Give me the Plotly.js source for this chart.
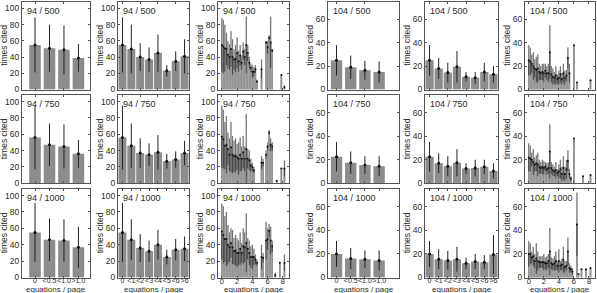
<!DOCTYPE html>
<html><head><meta charset="utf-8">
<script src="https://cdn.plot.ly/plotly-3.0.1.min.js"></script>
<style>html,body{margin:0;padding:0;background:#fff}#chart{width:597px;height:293px}</style>
</head><body><div id="chart"></div>
<script>
// ---------- DATA ----------
const groupLabels = ['94', '104'];
const sizeLabels = ['500', '750', '1000'];
const catsCoarse = ['0', '<0.5', '<1.0', '>1.0'];
const catsMid = ['0', '<1', '<2', '<3', '<4', '<5', '<6', '>6'];
const xFine = [0,0.2,0.4,0.6,0.8,1,1.2,1.4,1.6,1.8,2,2.2,2.4,2.6,2.8,3,3.2,3.4,3.6,3.8,4,4.2,4.4,4.6,4.8,5,5.2,5.4,5.6,5.8,6,6.2,6.4,6.6,6.8,7,7.2,7.4,7.6,7.8,8,8.2,8.4];
const xFineTicks = [0, 2, 4, 6, 8];
const yTicks94 = [0, 20, 40, 60, 80, 100];
const yTicks104 = [0, 20, 40, 60];

// coarse bins (mean, sd)
const c94_500_mean = [55, 51, 49, 39];   const c94_500_sd = [34, 29, 30, 17];
const c94_750_mean = [56, 47, 45, 36];   const c94_750_sd = [39, 26, 27, 17];
const c94_1000_mean = [55, 46, 45, 37];  const c94_1000_sd = [36, 26, 26, 25];
const c104_500_mean = [25, 19, 16.5, 15];   const c104_500_sd = [13, 10, 8, 9];
const c104_750_mean = [22.5, 17.5, 15.5, 14.5]; const c104_750_sd = [12.5, 9.5, 7.5, 8.5];
const c104_1000_mean = [20, 16, 15.5, 14.5];  const c104_1000_sd = [11, 9, 7.5, 8.5];

// per-integer bins (mean, sd)
const m94_500_mean = [55, 50, 40, 37, 45, 23, 35, 41];   const m94_500_sd = [34, 30, 17, 15, 23, 7, 12, 21];
const m94_750_mean = [56, 46, 37, 35, 38, 27, 29, 37];   const m94_750_sd = [39, 27, 18, 14, 21, 9, 10, 15];
const m94_1000_mean = [55, 46, 36, 32, 40, 25, 34, 35];  const m94_1000_sd = [36, 25, 17, 13, 18, 9, 13, 15];
const m104_500_mean = [25, 18, 14.5, 19.5, 11, 10, 15, 13]; const m104_500_sd = [13, 9, 8.5, 13.5, 4, 5, 8, 7];
const m104_750_mean = [22.5, 17, 14.5, 17.5, 12.5, 13, 14, 10.5]; const m104_750_sd = [12.5, 8.5, 8.5, 11.5, 4.5, 7, 6, 6.5];
const m104_1000_mean = [20, 15.5, 14.5, 15.5, 12, 13.5, 13, 19.5]; const m104_1000_sd = [11, 8.5, 8, 10.5, 5, 6.5, 6, 16.5];

// fine bins (mean, sd), null = empty bin
const f94_500_mean = [55,53,51,50,43,40,50,40,37,38,45,35,42,33,47,40,55,45,33,27,22,22,25,10,null,null,25,null,null,58,52,64,58,48,null,null,null,null,null,18,null,3,null];
const f94_500_sd   = [33,33,29,20,17,16,22,22,13,17,19,13,13,9,11,10,35,10,7,5,8,6,5,2,null,null,12,null,null,2,8,3,32,2,null,null,null,null,null,0,null,2,null];
const f94_750_mean = [57,54,46,47,42,35,44,35,33,34,32,30,35,30,38,30,42,30,28,22,20,16,null,null,null,null,25,25,null,35,45,62,47,45,null,null,3,null,null,18,null,18,null];
const f94_750_sd   = [38,36,29,35,20,20,31,23,19,21,16,20,21,15,20,15,43,12,12,8,5,4,null,null,null,null,8,5,null,5,5,3,8,5,null,null,1,null,null,0,null,10,null];
const f94_1000_mean = [56,52,47,47,40,37,42,37,32,33,30,30,35,30,38,37,42,35,30,25,25,25,22,18,null,null,25,24,null,45,47,57,45,38,null,3,null,null,18,null,null,18,null];
const f94_1000_sd   = [34,35,28,33,24,18,18,21,16,19,18,15,20,12,22,18,36,13,15,13,15,10,6,4,null,null,15,6,null,23,13,8,17,7,null,3,null,null,0,null,null,10,null];
const f104_500_mean = [25,24,22,20,18,17,18,15,14,15,14,16,14,14,32,13,11,10,12,9,10,13,9,14,10,12,27,14,null,null,38,null,6,null,null,null,null,null,null,null,null,8,null];
const f104_500_sd   = [13,12,8,12,8,11,12,7,6,7,8,6,6,8,23,7,7,5,8,4,6,7,5,8,6,5,9,8,null,null,0,null,0,null,null,null,null,null,null,null,null,0,null];
const f104_750_mean = [22,21,20,18,16,17,16,14,13,14,13,14,12,13,27,13,11,10,11,9,10,12,8,13,8,12,19,8,4,null,38,null,null,null,null,null,6,null,null,null,null,7,null];
const f104_750_sd   = [12,11,6,11,6,7,10,6,5,6,6,4,5,5,23,5,5,4,7,3,6,8,6,10,6,8,9,4,2,null,0,null,null,null,null,null,0,null,null,null,null,0,null];
const f104_1000_mean = [20,20,17,18,14,16,14,13,13,13,13,12,12,14,22,12,11,12,14,10,14,10,11,15,9,10,22,8,7,5,null,null,45,3,null,7,null,null,7,null,null,8,null];
const f104_1000_sd   = [11,9,5,8,6,13,8,5,5,5,7,5,6,6,20,5,5,6,8,4,10,4,5,11,5,4,12,4,3,3,null,null,27,0,null,0,null,null,0,null,null,0,null];

// ---------- LAYOUT / DRAW ----------
const W = 597, H = 293;
const colX = [[22, 90], [118, 189], [218, 289], [328, 399], [425, 498], [525, 595]];
const rowY = [[2, 89.5], [95, 183.3], [189, 277.5]];
const FONT = 'Liberation Sans, Arial, sans-serif';
const TXT = '#2a2a2a';
const BAR = '#8c8c8c', LIGHT = '#c2c2c2', DARK = '#5a5a5a';

const coarseData = {
  '94': [[c94_500_mean, c94_500_sd], [c94_750_mean, c94_750_sd], [c94_1000_mean, c94_1000_sd]],
  '104': [[c104_500_mean, c104_500_sd], [c104_750_mean, c104_750_sd], [c104_1000_mean, c104_1000_sd]]
};
const midData = {
  '94': [[m94_500_mean, m94_500_sd], [m94_750_mean, m94_750_sd], [m94_1000_mean, m94_1000_sd]],
  '104': [[m104_500_mean, m104_500_sd], [m104_750_mean, m104_750_sd], [m104_1000_mean, m104_1000_sd]]
};
const fineData = {
  '94': [[f94_500_mean, f94_500_sd], [f94_750_mean, f94_750_sd], [f94_1000_mean, f94_1000_sd]],
  '104': [[f104_500_mean, f104_500_sd], [f104_750_mean, f104_750_sd], [f104_1000_mean, f104_1000_sd]]
};

const traces = [];
const layout = {
  width: W, height: H, margin: {l: 0, r: 0, t: 0, b: 0},
  paper_bgcolor: '#fff', plot_bgcolor: '#fff',
  showlegend: false, barmode: 'overlay',
  font: {family: FONT, size: 9, color: TXT},
  annotations: []
};

function axBase() {
  return {showline: true, mirror: 'ticks', linecolor: '#555', linewidth: 1,
    ticks: 'inside', ticklen: 2, tickcolor: '#555', showgrid: false, zeroline: false,
    tickfont: {family: FONT, size: 8.5, color: TXT}, fixedrange: true};
}

for (let r = 0; r < 3; r++) {
  for (let c = 0; c < 6; c++) {
    const p = r * 6 + c + 1;
    const xa = p === 1 ? 'x' : 'x' + p;
    const ya = p === 1 ? 'y' : 'y' + p;
    const g = c < 3 ? 0 : 1;
    const grp = groupLabels[g];
    const kind = c % 3;
    const xKey = p === 1 ? 'xaxis' : 'xaxis' + p;
    const yKey = p === 1 ? 'yaxis' : 'yaxis' + p;

    const xax = axBase();
    xax.domain = [colX[c][0] / W, colX[c][1] / W];
    xax.anchor = ya;
    xax.showticklabels = (r === 2);
    xax.ticklabelstandoff = -4;
    xax.tickangle = 0;
    xax.tickfont = {family: FONT, size: kind === 2 ? 7.5 : 7, color: TXT};
    const yax = axBase();
    yax.domain = [1 - rowY[r][1] / H, 1 - rowY[r][0] / H];
    yax.anchor = xa;
    yax.range = g === 0 ? [0, 108] : [0, 75];
    yax.tickvals = g === 0 ? yTicks94 : yTicks104;

    if (kind === 0 || kind === 1) {
      const cats = kind === 0 ? catsCoarse : catsMid;
      const [mean, sd] = (kind === 0 ? coarseData : midData)[grp][r];
      xax.type = 'category';
      xax.categoryorder = 'array';
      xax.categoryarray = cats;
      xax.range = kind === 0 ? (g === 0 ? [-0.9, 3.8] : [-0.6, 4.4]) : [-0.5, 7.5];
      traces.push({type: 'bar', x: cats, y: mean, xaxis: xa, yaxis: ya,
        width: kind === 0 ? 0.8 : 0.9, marker: {color: BAR, line: {width: 0}}, hoverinfo: 'skip'});
      traces.push({type: 'scatter', mode: 'markers', x: cats, y: mean, xaxis: xa, yaxis: ya,
        marker: {color: '#111', size: 3},
        error_y: {type: 'data', array: sd, arrayminus: sd.map((s, i) => Math.min(s, mean[i])),
          color: '#222', thickness: 1, width: 0}, hoverinfo: 'skip'});
    } else {
      const [meanAll, sdAll] = fineData[grp][r];
      const xs = [], m = [], hi = [], lo = [], up = [], dn = [];
      xFine.forEach((x, i) => {
        if (meanAll[i] === null) return;
        xs.push(x); m.push(meanAll[i]);
        hi.push(meanAll[i] + sdAll[i]);
        const l = Math.max(0, meanAll[i] - sdAll[i]);
        lo.push(l); up.push(sdAll[i]); dn.push(meanAll[i] - l);
      });
      xax.type = 'linear';
      xax.range = [-0.5, 8.8];
      xax.tickvals = xFineTicks;
      const barLine = {width: 0.3, color: 'rgba(255,255,255,0.5)'};
      traces.push({type: 'bar', x: xs, y: hi, xaxis: xa, yaxis: ya, width: 0.2,
        marker: {color: LIGHT, line: barLine}, hoverinfo: 'skip'});
      traces.push({type: 'bar', x: xs, y: m, xaxis: xa, yaxis: ya, width: 0.2,
        marker: {color: DARK, line: barLine}, hoverinfo: 'skip'});
      traces.push({type: 'bar', x: xs, y: lo, xaxis: xa, yaxis: ya, width: 0.2,
        marker: {color: BAR, line: barLine}, hoverinfo: 'skip'});
      traces.push({type: 'scatter', mode: 'markers', x: xs, y: m, xaxis: xa, yaxis: ya,
        marker: {color: '#111', size: 2},
        error_y: {type: 'data', array: up, arrayminus: dn, color: '#333', thickness: 0.6, width: 0},
        hoverinfo: 'skip'});
    }
    layout[xKey] = xax;
    layout[yKey] = yax;

    const xd = xa + ' domain', yd = ya + ' domain';
    layout.annotations.push({xref: xd, yref: yd, x: 0, y: 1, xanchor: 'left', yanchor: 'top',
      xshift: 3, yshift: -2, showarrow: false, text: grp + ' / ' + sizeLabels[r],
      font: {family: FONT, size: 9, color: TXT}});
    layout.annotations.push({xref: xd, yref: yd, x: 0, y: 0.5, xanchor: 'center', yanchor: 'middle',
      xshift: -18, textangle: -90, showarrow: false, text: 'times cited',
      font: {family: FONT, size: 8.5, color: TXT}});
    if (r === 2) {
      layout.annotations.push({xref: xd, yref: yd, x: 0.5, y: 0, xanchor: 'center', yanchor: 'middle',
        yshift: -12, showarrow: false, text: 'equations / page',
        font: {family: FONT, size: 8, color: TXT}});
    }
  }
}

Plotly.newPlot('chart', traces, layout, {displayModeBar: false, staticPlot: true});
</script>
</body></html>
